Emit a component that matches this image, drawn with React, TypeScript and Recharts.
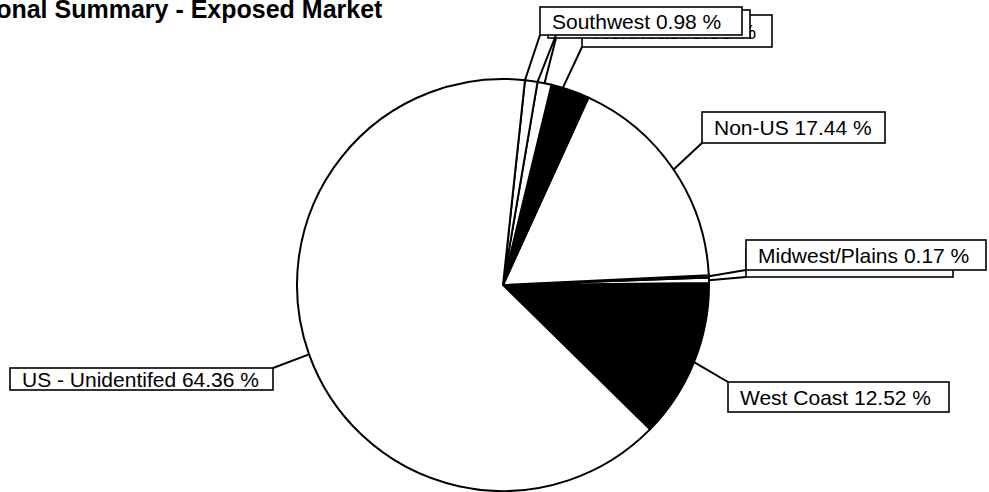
import React from "react";
import { PieChart, Pie, Cell } from "recharts";

// slices listed counter-clockwise, starting at the lower edge of West Coast
const regions = [
  "West Coast",
  "Mid-Atlantic",
  "Midwest/Plains",
  "Non-US",
  "Northeast",
  "Southeast",
  "Southwest",
  "US - Unidentifed",
];
const shares = [12.52, 0.43, 0.17, 17.44, 3.03, 1.1, 0.98, 64.36];
const darkRegions = ["West Coast", "Northeast"];

const data = regions.map((name, i) => ({ name, value: shares[i] }));

const RAD = Math.PI / 180;
const FONT = '"Liberation Sans", Arial, sans-serif';

// where each callout box sits, and where its leader lines meet the box
// (at: -1 / 0 / 1 = start, middle or end of the slice arc)
const labelBoxes = {
  "West Coast": { x: 728, y: 382, w: 221, h: 30, leaders: [{ at: 0, to: [0, 0] }] },
  "Mid-Atlantic": { x: 746, y: 249, w: 207, h: 28, base: 18, leaders: [{ at: 0, to: [0, 28] }] },
  "Midwest/Plains": { x: 746, y: 240, w: 240, h: 30, leaders: [{ at: 0, to: [0, 30] }] },
  "Non-US": { x: 702, y: 112, w: 183, h: 31, leaders: [{ at: 0, to: [0, 31] }] },
  Northeast: { x: 582, y: 15, w: 190, h: 32, leaders: [{ at: 0.4, to: [0, 32] }] },
  Southeast: { x: 548, y: 10, w: 202, h: 28, leaders: [{ at: 0, to: [8, 28] }] },
  Southwest: {
    x: 540,
    y: 7,
    w: 202,
    h: 28,
    leaders: [
      { at: 1, to: [0, 28] },
      { at: -1, to: [16, 28] },
    ],
  },
  "US - Unidentifed": { x: 10, y: 368, w: 263, h: 22, leaders: [{ at: 0, to: [263, 0] }] },
};

const renderLabel = (props: any) => {
  const { cx, cy, midAngle, outerRadius, percent } = props;
  const name = props.name ?? props.payload?.name;
  const value = props.value ?? props.payload?.value;
  const box = labelBoxes[name];
  if (!box) return null;
  const half = (percent * 360) / 2;
  const pt = (a: number) => [
    cx + outerRadius * Math.cos(-a * RAD),
    cy + outerRadius * Math.sin(-a * RAD),
  ];
  return (
    <g key={name}>
      {box.leaders.map((l, i) => {
        const [x1, y1] = pt(midAngle + l.at * half);
        return (
          <line
            key={i}
            x1={x1}
            y1={y1}
            x2={box.x + l.to[0]}
            y2={box.y + l.to[1]}
            stroke="#000"
            strokeWidth={2}
          />
        );
      })}
      <rect
        x={box.x}
        y={box.y}
        width={box.w}
        height={box.h}
        fill="#fff"
        stroke="#000"
        strokeWidth={1.6}
      />
      <text
        x={box.x + 12}
        y={box.y + (box.base ?? box.h / 2 + 7.5)}
        fontFamily={FONT}
        fontSize={21}
        fill="#000"
      >
        {`${name} ${Number(value).toFixed(2)} %`}
      </text>
    </g>
  );
};

export default function App() {
  return (
    <div style={{ position: "absolute", left: 0, top: 0, width: 989, height: 492, background: "#fff" }}>
      <PieChart width={989} height={492} margin={{ top: 0, right: 0, bottom: 0, left: 0 }}>
        <Pie
          data={data}
          dataKey="value"
          nameKey="name"
          cx={503}
          cy={285}
          outerRadius={206}
          startAngle={-44.5}
          endAngle={315.5}
          stroke="#000"
          strokeWidth={2}
          label={renderLabel}
          labelLine={false}
          isAnimationActive={false}
        >
          {data.map((d) => (
            <Cell key={d.name} fill={darkRegions.includes(d.name) ? "#000" : "#fff"} />
          ))}
        </Pie>
      </PieChart>
      <div
        style={{
          position: "absolute",
          left: -58,
          top: -3,
          fontFamily: FONT,
          fontWeight: "bold",
          fontSize: 25,
          lineHeight: "25px",
          whiteSpace: "nowrap",
          color: "#000",
        }}
      >
        Regional Summary - Exposed Market
      </div>
    </div>
  );
}
